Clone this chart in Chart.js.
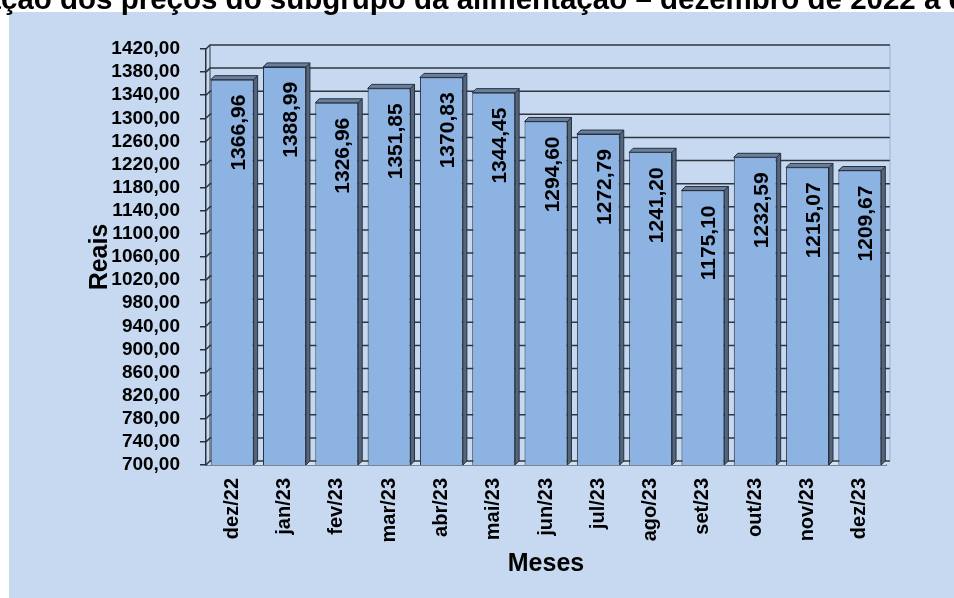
<!DOCTYPE html>
<html>
<head>
<meta charset="utf-8">
<script src="https://cdn.jsdelivr.net/npm/chart.js@4/dist/chart.umd.min.js"></script>
<style>
  html, body { margin: 0; padding: 0; background: #ffffff; overflow: hidden; }
  #wrap { width: 954px; height: 598px; position: relative; }
</style>
</head>
<body>
<div id="wrap"><canvas id="c" width="954" height="598"></canvas></div>
<script>
const chartTitle = 'Variação dos preços do subgrupo da alimentação – dezembro de 2022 a dezembro de 2023';
const titleHiddenPrefix = 'Varia';
const categories = ['dez/22','jan/23','fev/23','mar/23','abr/23','mai/23','jun/23','jul/23','ago/23','set/23','out/23','nov/23','dez/23'];
const values = [1366.96, 1388.99, 1326.96, 1351.85, 1370.83, 1344.45, 1294.60, 1272.79, 1241.20, 1175.10, 1232.59, 1215.07, 1209.67];
const yMin = 700;
const yMax = 1420;
const yStep = 40;
const xTitle = 'Meses';
const yTitle = 'Reais';

const FONT = '"Liberation Sans", Arial, sans-serif';
const DEPTH = 4;
const fmt = v => v.toFixed(2).replace('.', ',');

const bgPlugin = {
  id: 'bg',
  beforeDraw(chart) {
    const ctx = chart.ctx;
    ctx.save();
    ctx.fillStyle = '#ffffff';
    ctx.fillRect(0, 0, chart.width, chart.height);
    ctx.fillStyle = '#c6d9f1';
    ctx.fillRect(9, 12, chart.width - 9, chart.height - 12);
    // title (cropped at edges like the reference)
    ctx.font = 'bold 29.5px ' + FONT;
    ctx.fillStyle = '#000000';
    ctx.textBaseline = 'alphabetic';
    ctx.textAlign = 'left';
    const x0 = 1 - ctx.measureText(titleHiddenPrefix).width;
    ctx.fillText(chartTitle, x0, 8.5);
    ctx.restore();
  }
};

const wallPlugin = {
  id: 'wall',
  beforeDatasetsDraw(chart) {
    const ctx = chart.ctx;
    const ys = chart.scales.y;
    const a = chart.chartArea;
    ctx.save();
    // floor
    ctx.fillStyle = '#d5e0ee';
    ctx.beginPath();
    ctx.moveTo(a.left, a.bottom);
    ctx.lineTo(a.left + DEPTH, a.bottom - DEPTH);
    ctx.lineTo(a.right + DEPTH, a.bottom - DEPTH);
    ctx.lineTo(a.right, a.bottom);
    ctx.closePath();
    ctx.fill();
    ctx.strokeStyle = '#30363f';
    ctx.lineWidth = 1.5;
    ys.ticks.forEach(t => {
      const y = ys.getPixelForValue(t.value);
      ctx.beginPath();
      ctx.moveTo(a.left, y);
      ctx.lineTo(a.left + DEPTH, y - DEPTH);
      ctx.lineTo(a.right + DEPTH, y - DEPTH);
      ctx.stroke();
    });
    ctx.lineWidth = 1;
    ctx.beginPath();
    ctx.moveTo(a.left + DEPTH, a.top - DEPTH);
    ctx.lineTo(a.left + DEPTH, a.bottom - DEPTH);
    ctx.stroke();
    ctx.strokeStyle = 'rgba(120,140,170,0.5)';
    ctx.beginPath();
    ctx.moveTo(a.right + DEPTH, a.top - DEPTH);
    ctx.lineTo(a.right + DEPTH, a.bottom - DEPTH);
    ctx.stroke();
    ctx.restore();
  },
  afterDatasetsDraw(chart) {
    const ctx = chart.ctx;
    const ys = chart.scales.y;
    const meta = chart.getDatasetMeta(0);
    const base = ys.getPixelForValue(yMin);
    ctx.save();
    ctx.strokeStyle = '#26303f';
    ctx.lineWidth = 1;
    meta.data.forEach((bar, i) => {
      const x = bar.x, y = bar.y, w = bar.width;
      const l = x - w / 2, r = x + w / 2;
      // right side face
      ctx.fillStyle = '#55657c';
      ctx.beginPath();
      ctx.moveTo(r, y);
      ctx.lineTo(r + DEPTH, y - DEPTH);
      ctx.lineTo(r + DEPTH, base - DEPTH);
      ctx.lineTo(r, base);
      ctx.closePath();
      ctx.fill();
      ctx.stroke();
      // top face
      ctx.fillStyle = '#6a7f9c';
      ctx.beginPath();
      ctx.moveTo(l, y);
      ctx.lineTo(l + DEPTH, y - DEPTH);
      ctx.lineTo(r + DEPTH, y - DEPTH);
      ctx.lineTo(r, y);
      ctx.closePath();
      ctx.fill();
      ctx.stroke();
    });
    // value labels
    ctx.fillStyle = '#000000';
    ctx.font = 'bold 21px ' + FONT;
    ctx.textAlign = 'right';
    ctx.textBaseline = 'alphabetic';
    meta.data.forEach((bar, i) => {
      ctx.save();
      ctx.translate(bar.x + 12.5, bar.y + 15);
      ctx.rotate(-Math.PI / 2);
      ctx.fillText(fmt(values[i]), 0, 0);
      ctx.restore();
    });
    ctx.restore();
  }
};

new Chart(document.getElementById('c'), {
  type: 'bar',
  data: {
    labels: categories,
    datasets: [{
      data: values,
      backgroundColor: '#8db3e2',
      borderColor: '#26303f',
      borderWidth: 1,
      barPercentage: 0.82,
      categoryPercentage: 1.0
    }]
  },
  options: {
    responsive: false,
    devicePixelRatio: 1,
    animation: false,
    layout: { padding: { top: 49, right: 68, bottom: 0, left: 0 } },
    plugins: {
      legend: { display: false },
      title: { display: false },
      tooltip: { enabled: false }
    },
    scales: {
      x: {
        grid: { display: false, drawTicks: false },
        border: { display: true, color: '#26303f', width: 1.5 },
        ticks: {
          autoSkip: false,
          minRotation: 90,
          maxRotation: 90,
          padding: 13,
          color: '#000000',
          font: { family: FONT, size: 20, weight: 'bold' }
        },
        title: {
          display: true,
          text: xTitle,
          color: '#000000',
          font: { family: FONT, size: 25, weight: 'bold' },
          padding: { top: 0, bottom: 19 }
        },
        afterFit(scale) { scale.height = 133; }
      },
      y: {
        min: yMin,
        max: yMax,
        grid: { drawOnChartArea: false, drawTicks: true, tickLength: 6, color: '#26303f', lineWidth: 1.5 },
        border: { display: true, color: '#26303f', width: 1.5 },
        ticks: {
          stepSize: yStep,
          autoSkip: false,
          padding: 20,
          color: '#000000',
          font: { family: FONT, size: 19, weight: 'bold' },
          callback: v => fmt(v)
        },
        title: {
          display: true,
          text: yTitle,
          color: '#000000',
          font: { family: FONT, size: 25, weight: 'bold' },
          padding: { top: 85, bottom: 0 }
        },
        afterFit(scale) { scale.width = 206; }
      }
    }
  },
  plugins: [bgPlugin, wallPlugin]
});
</script>
</body>
</html>
